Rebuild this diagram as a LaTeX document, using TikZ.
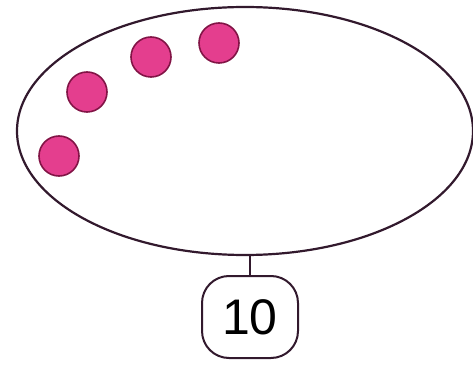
\documentclass[tikz,border=0pt]{standalone}
\usepackage{fontspec}
\setmainfont{Liberation Sans}
\usetikzlibrary{shapes.geometric}
\definecolor{ballfill}{RGB}{228,62,142}
\definecolor{balledge}{RGB}{130,20,70}
\definecolor{outline}{RGB}{50,25,45}
\begin{document}
\begin{tikzpicture}[x=1pt,y=-1pt,
  ball/.style={circle,draw=balledge,line width=1.6pt,fill=ballfill,minimum size=40pt,inner sep=0pt},
  numbox/.style={draw=outline,line width=2pt,rounded corners=27pt,minimum width=96pt,minimum height=82pt,inner sep=0pt,font=\fontsize{50}{50}\selectfont}]
\useasboundingbox (0,0) rectangle (473,371);
\node[ellipse,draw=outline,line width=2.2pt,minimum width=456pt,minimum height=248pt,inner sep=0pt] (set) at (245,131) {};
\node[ball] (b1) at (59,156) {};
\node[ball] (b2) at (87,92) {};
\node[ball] (b3) at (151,57) {};
\node[ball] (b4) at (219,43) {};
\node[numbox] (n) at (250,317) {10};
\draw[outline,line width=1.8pt] (set.south -| n.north) -- (n.north);
\end{tikzpicture}
\end{document}
